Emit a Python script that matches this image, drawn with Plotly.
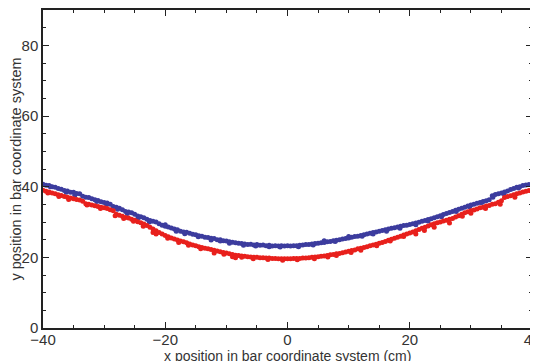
import plotly.graph_objects as go

# x positions (cm) sampled every 0.5 cm
x_pos = [-40.0, -39.5, -39.0, -38.5, -38.0, -37.5, -37.0, -36.5, -36.0, -35.5,
         -35.0, -34.5, -34.0, -33.5, -33.0, -32.5, -32.0, -31.5, -31.0, -30.5,
         -30.0, -29.5, -29.0, -28.5, -28.0, -27.5, -27.0, -26.5, -26.0, -25.5,
         -25.0, -24.5, -24.0, -23.5, -23.0, -22.5, -22.0, -21.5, -21.0, -20.5,
         -20.0, -19.5, -19.0, -18.5, -18.0, -17.5, -17.0, -16.5, -16.0, -15.5,
         -15.0, -14.5, -14.0, -13.5, -13.0, -12.5, -12.0, -11.5, -11.0, -10.5,
         -10.0, -9.5, -9.0, -8.5, -8.0, -7.5, -7.0, -6.5, -6.0, -5.5,
         -5.0, -4.5, -4.0, -3.5, -3.0, -2.5, -2.0, -1.5, -1.0, -0.5,
         0.0, 0.5, 1.0, 1.5, 2.0, 2.5, 3.0, 3.5, 4.0, 4.5,
         5.0, 5.5, 6.0, 6.5, 7.0, 7.5, 8.0, 8.5, 9.0, 9.5,
         10.0, 10.5, 11.0, 11.5, 12.0, 12.5, 13.0, 13.5, 14.0, 14.5,
         15.0, 15.5, 16.0, 16.5, 17.0, 17.5, 18.0, 18.5, 19.0, 19.5,
         20.0, 20.5, 21.0, 21.5, 22.0, 22.5, 23.0, 23.5, 24.0, 24.5,
         25.0, 25.5, 26.0, 26.5, 27.0, 27.5, 28.0, 28.5, 29.0, 29.5,
         30.0, 30.5, 31.0, 31.5, 32.0, 32.5, 33.0, 33.5, 34.0, 34.5,
         35.0, 35.5, 36.0, 36.5, 37.0, 37.5, 38.0, 38.5, 39.0, 39.5, 40.0]

y_blue = [40.7, 40.4, 40.3, 40.0, 39.8, 39.5, 39.3, 38.9, 38.8, 38.4,
          38.4, 38.1, 38.0, 37.3, 37.0, 36.9, 36.6, 36.3, 36.1, 35.7,
          35.5, 35.4, 35.0, 34.4, 34.2, 33.9, 33.5, 33.0, 32.8, 32.6,
          32.2, 31.7, 31.5, 31.2, 30.8, 30.4, 30.2, 30.0, 29.5, 29.1,
          28.8, 28.6, 28.3, 28.0, 27.8, 27.4, 27.2, 27.1, 26.8, 26.5,
          26.4, 26.1, 26.0, 25.7, 25.6, 25.4, 25.3, 25.0, 25.0, 24.7,
          24.6, 24.4, 24.3, 24.1, 24.0, 23.9, 23.8, 23.6, 23.7, 23.5,
          23.6, 23.4, 23.5, 23.3, 23.4, 23.2, 23.3, 23.2, 23.3, 23.2,
          23.3, 23.2, 23.3, 23.3, 23.4, 23.5, 23.6, 23.6, 23.8, 23.9,
          24.0, 24.1, 24.2, 24.4, 24.5, 24.7, 24.8, 25.0, 25.2, 25.3,
          25.5, 25.7, 25.9, 26.0, 26.2, 26.4, 26.6, 26.8, 27.0, 27.2,
          27.4, 27.6, 27.8, 28.0, 28.2, 28.4, 28.6, 28.8, 29.0, 29.1,
          29.3, 29.5, 29.7, 29.9, 30.2, 30.4, 30.7, 30.9, 31.2, 31.5,
          31.8, 32.1, 32.4, 32.7, 33.0, 33.3, 33.6, 33.9, 34.2, 34.5,
          34.8, 35.0, 35.3, 35.5, 35.8, 36.0, 36.3, 37.4, 37.8, 38.0,
          38.2, 38.5, 38.8, 39.2, 39.5, 39.8, 40.0, 40.3, 40.5, 40.6, 40.6]

y_red = [39.0, 38.7, 38.5, 38.2, 38.0, 37.7, 37.5, 37.2, 37.0, 36.8,
         36.6, 36.4, 36.2, 35.9, 35.2, 35.0, 34.8, 34.6, 34.4, 34.2,
         34.0, 33.8, 33.5, 33.2, 32.2, 31.9, 31.6, 31.3, 31.1, 30.8,
         30.5, 30.1, 29.8, 29.4, 29.0, 28.5, 28.0, 27.5, 27.0, 26.6,
         26.2, 25.8, 25.5, 25.2, 24.9, 24.6, 24.4, 24.1, 23.8, 23.5,
         23.3, 23.0, 22.8, 22.6, 22.4, 22.2, 22.0, 21.8, 21.6, 21.4,
         21.2, 21.0, 20.8, 20.6, 20.5, 20.4, 20.3, 20.2, 20.1, 20.0,
         20.0, 19.9, 19.9, 19.8, 19.8, 19.7, 19.7, 19.6, 19.6, 19.6,
         19.6, 19.6, 19.7, 19.7, 19.7, 19.8, 19.8, 19.9, 20.0, 20.1,
         20.2, 20.3, 20.4, 20.5, 20.7, 20.8, 21.0, 21.1, 21.3, 21.5,
         21.7, 21.9, 22.1, 22.4, 22.6, 22.8, 23.0, 23.3, 23.5, 23.7,
         24.0, 24.2, 24.5, 24.8, 25.1, 25.4, 25.7, 26.0, 26.3, 26.6,
         26.9, 27.2, 27.5, 27.9, 28.2, 28.5, 28.9, 29.2, 29.5, 29.8,
         30.0, 30.3, 30.5, 30.8, 31.0, 31.4, 31.8, 32.2, 32.6, 32.9,
         33.2, 33.4, 33.7, 34.0, 34.2, 34.5, 34.7, 35.0, 35.2, 35.6,
         36.0, 36.9, 37.2, 37.4, 37.7, 38.0, 38.2, 38.5, 38.7, 38.9, 39.0]

# scattered extra hits that widen the bands
x_blue_extra = [-38.8, -36.2, -34.8, -31.2, -29.6, -27.8, -26.2, -24.4, -22.6, -20.0,
                -18.2, -16.8, -14.6, -12.5, -11.0, -9.5, -7.2, -5.2, -3.0, -1.2,
                1.8, 4.2, 6.0, 7.8, 10.0, 12.2, 14.0, 16.2, 18.4, 21.0,
                23.0, 25.2, 27.6, 29.8, 31.8, 33.6, 35.4, 37.8]
y_blue_extra = [40.0, 38.4, 37.6, 35.8, 35.0, 33.6, 32.4, 31.2, 30.0, 29.2,
                27.4, 26.7, 25.8, 24.9, 24.6, 24.0, 23.4, 23.2, 23.0, 22.9,
                23.0, 23.5, 24.7, 24.5, 25.9, 26.0, 26.6, 27.4, 28.2, 29.2,
                30.3, 31.5, 33.0, 34.3, 35.5, 37.0, 38.0, 39.6]
x_red_extra = [-39.2, -37.4, -35.8, -32.8, -30.6, -28.2, -26.8, -25.2, -23.6, -22.0,
               -21.5, -19.6, -17.8, -16.2, -14.2, -12.0, -10.4, -9.0, -8.5, -7.5,
               -5.6, -3.2, -0.8, 1.6, 4.4, 6.6, 8.0, 10.4, 12.0, 14.6,
               16.8, 19.0, 21.0, 22.4, 24.0, 26.5, 28.6, 30.0, 32.4, 34.8, 37.2]
y_red_extra = [38.2, 37.2, 36.4, 34.8, 33.8, 31.8, 31.0, 30.2, 28.8, 27.0,
               26.6, 25.4, 24.2, 23.4, 22.4, 21.2, 20.9, 20.2, 19.9, 20.0,
               19.6, 19.4, 19.2, 19.3, 19.6, 20.1, 20.5, 21.4, 22.0, 23.3,
               24.6, 25.9, 26.6, 27.6, 28.5, 29.7, 31.6, 32.5, 33.8, 35.0, 37.0]

x_title = "x position in bar coordinate system (cm)"
y_title = "y position in bar coordinate system"

blue = "#3c3c9e"
red = "#e8201c"
font_family = "Liberation Sans, Arial, sans-serif"

fig = go.Figure()
fig.add_trace(go.Scatter(x=x_pos + x_blue_extra, y=y_blue + y_blue_extra, mode="markers",
                         marker=dict(color=blue, size=5, line=dict(width=0)),
                         showlegend=False))
fig.add_trace(go.Scatter(x=x_pos + x_red_extra, y=y_red + y_red_extra, mode="markers",
                         marker=dict(color=red, size=5, line=dict(width=0)),
                         showlegend=False))

axis_common = dict(showgrid=False, zeroline=False, showline=True, linecolor="#222",
                   linewidth=1.5, mirror="ticks", ticks="inside", ticklen=6,
                   tickcolor="#222", tickwidth=1, automargin=False,
                   ticklabeloverflow="allow",
                   tickfont=dict(family=font_family, size=15, color="#333"),
                   minor=dict(ticks="inside", dtick=5, ticklen=3, tickcolor="#222"))

fig.update_xaxes(range=[-40, 40], dtick=20, ticklabelstandoff=-3, **axis_common)
fig.update_yaxes(range=[0, 90], dtick=20, **axis_common,
                 title=dict(text=y_title,
                            font=dict(family=font_family, size=14.5, color="#333"),
                            standoff=1))

fig.add_annotation(text=x_title, xref="paper", yref="paper", x=0.5, y=0,
                   xanchor="center", yanchor="middle", yshift=-28, showarrow=False,
                   font=dict(family=font_family, size=14, color="#333"))

# page body has an 8px default margin, so the figure is sized to fit inside the window
fig.update_layout(width=530, height=353, plot_bgcolor="white", paper_bgcolor="white",
                  margin=dict(l=35, r=6, t=2, b=33))

fig.write_html("out.html")
